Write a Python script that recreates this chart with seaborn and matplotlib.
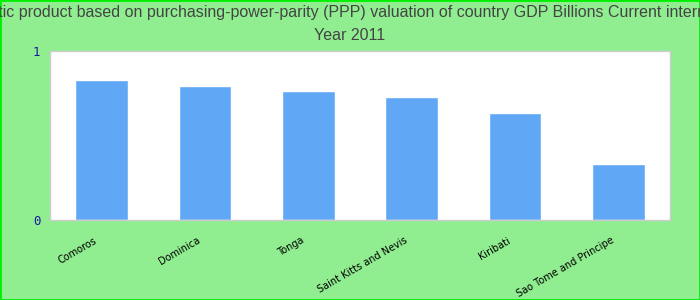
import matplotlib
matplotlib.use("Agg")
import matplotlib.pyplot as plt
import matplotlib.transforms as mtransforms
import seaborn as sns
import pandas as pd

countries = ["Comoros", "Dominica", "Tonga", "Saint Kitts and Nevis", "Kiribati", "Sao Tome and Principe"]
values = [0.828, 0.793, 0.763, 0.728, 0.633, 0.331]
yticks = [0, 1]
title_line1 = "Gross domestic product based on purchasing-power-parity (PPP) valuation of country GDP Billions Current international dollar"
title_line2 = "Year 2011"

sns.set_theme(style="white")
plt.rcParams['font.family'] = ['Liberation Sans', 'DejaVu Sans']

df = pd.DataFrame({"country": countries, "value": values})

fig = plt.figure(figsize=(7, 3), dpi=100, facecolor="#90EE90")
ax = fig.add_axes([50/700, 1-220/300, 620/700, 169/300])
ax.set_facecolor("white")
sns.barplot(data=df, x="country", y="value", color="#60A8F5", saturation=1, width=0.51, ax=ax)
ax.set_ylim(0, 1)
ax.set_xlim(-0.5, len(countries)-0.5)
ax.set_yticks(yticks)
ax.set_yticklabels([str(v) for v in yticks], fontsize=9, family=['DejaVu Sans Mono'])
for t in ax.get_yticklabels():
    t.set_color("#1a1aa0")
ax.tick_params(axis='y', length=0, pad=7)
ax.tick_params(axis='x', length=0, pad=11)
ax.set_xticks(range(len(countries)))
ax.set_xticklabels(countries, rotation=30, ha="right", rotation_mode="anchor", fontsize=7, color="black",
                   family=['DejaVu Sans'])
offset = mtransforms.ScaledTranslation(-8/100, 0, fig.dpi_scale_trans)
for t in ax.get_xticklabels():
    t.set_transform(t.get_transform() + offset)
ax.set_xlabel("")
ax.set_ylabel("")
for s in ax.spines.values():
    s.set_color("#cccccc")
    s.set_linewidth(1)

fig.text(0.5, 1-12/300, title_line1, ha="center", va="center", fontsize=11.5, color="#444444")
fig.text(0.5, 1-36/300, title_line2, ha="center", va="center", fontsize=11.5, color="#444444")

border = plt.Rectangle((0, 0), 1, 1, transform=fig.transFigure, fill=False, edgecolor="#00EE00", linewidth=2)
fig.patches.append(border)

fig.savefig("out.png", dpi=100, facecolor=fig.get_facecolor())
